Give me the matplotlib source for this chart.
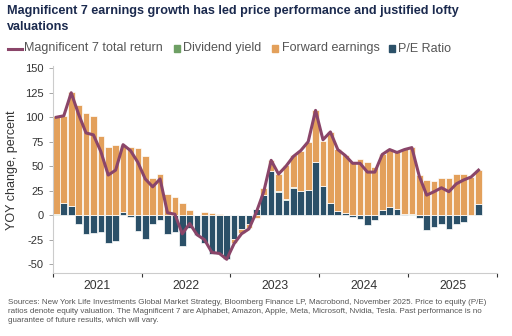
import numpy as np
import matplotlib
matplotlib.use("Agg")
import matplotlib.pyplot as plt
from matplotlib.patches import Rectangle
from matplotlib.lines import Line2D

plt.rcParams['font.family'] = ['Liberation Sans', 'DejaVu Sans']
plt.rcParams['axes.unicode_minus'] = False

# ---- data (monthly, Jan 2021 - Oct 2025) ----
years = ["2021", "2022", "2023", "2024", "2025"]
pe_ratio = [0.5, 12, 9, -8.5, -19, -18, -17, -28, -26, 3, -1.5, -16,
            -24.5, -9, -5, -19, -17, -31, -13.5, -20, -28, -40, -40, -45,
            -24, -13.6, -8.5, 6.5, 20.5, 45, 24, 16, 28, 24.5, 25.5, 54.5,
            29.5, 12.5, 4, 2, -1.7, -4, -9.5, -4.4, 5, 8, 6, 1,
            0.5, -3, -15.3, -12, -9, -13.6, -9, -7, 0, 11]
dividend_yield = [0.3, 0.3, 0.3, 0.3, 0.3, 0.3, 0.3, 0.3, 0.3, 0.3, 0.3, 0.3,
                  0.3, 0.3, 0.3, 0.3, 0.3, 0.3, 0.3, 0.3, 0.3, 0.3, 0.3, 0.3,
                  0.3, 0.3, 0.3, 0.3, 0.3, 0.3, 0.3, 0.3, 0.3, 0.3, 0.3, 0.3,
                  0.3, 0.3, 0.3, 0.3, 0.3, 0.3, 0.3, 0.3, 0.3, 0.3, 0.3, 0.3,
                  0.3, 0.3, 0.3, 0.3, 0.3, 0.3, 0.3, 0.3, 0.3, 0.3]
forward_earnings = [100, 89, 116, 112, 104, 100.5, 81, 69, 71.5, 68.5, 69, 68,
                    60.5, 37.5, 42, 21.5, 18, 12, 5, 0, 3, 2, 1, 0,
                    -4.5, -4.5, -5, -3, 7, 11.5, 18, 35, 33, 40.5, 48.5, 52.5,
                    46, 72.5, 63, 59, 53.5, 57, 53.5, 48.7, 57, 59, 58, 66,
                    68.5, 40.5, 36, 35, 37.5, 38, 41.5, 42, 39, 35]
total_return = [100, 101.5, 125, 103, 84, 82, 65, 41, 46, 72, 66, 54,
                37, 29, 37, 2.5, 1, -19, -8.5, -20, -25, -38, -39, -45,
                -29, -19, -14, 3, 24, 56, 42, 50, 60, 66, 75, 107,
                77, 85, 67, 61, 53, 53, 44, 44, 62, 67, 64, 67,
                69, 40, 20.5, 24, 28, 24, 32, 36, 39, 46]

C_ORANGE = "#E3A05B"
C_BLUE = "#2B5068"
C_GREEN = "#6E9F64"
C_LINE = "#8A4569"
C_TITLE = "#1B2A4E"

W, H = 512, 336
fig = plt.figure(figsize=(W / 100, H / 100), dpi=100)

def fx(px):
    return px / W

def fy(py):
    return 1 - py / H

ax_left, ax_right, ax_top, ax_bottom = 52.7, 497, 66.3, 273
ax = fig.add_axes([fx(ax_left), fy(ax_bottom), (ax_right - ax_left) / W, (ax_bottom - ax_top) / H])

x = np.arange(len(total_return))
pos_base = np.zeros(len(x))
neg_base = np.zeros(len(x))
for vals, col in [(pe_ratio, C_BLUE), (dividend_yield, C_GREEN), (forward_earnings, C_ORANGE)]:
    v = np.asarray(vals, dtype=float)
    bottom = np.where(v >= 0, pos_base, neg_base)
    ax.bar(x, v, bottom=bottom, width=0.9, color=col, edgecolor="white", linewidth=0.5, zorder=2)
    pos_base += np.where(v >= 0, v, 0)
    neg_base += np.where(v < 0, v, 0)

ax.plot(x, total_return, color=C_LINE, lw=2.2, zorder=4, solid_joinstyle="round")

ax.set_xlim(-0.5, len(x) + 1.5)
ax.set_ylim(-59, 152)
ax.set_yticks([150, 125, 100, 75, 50, 25, 0, -25, -50])
ax.tick_params(axis="y", labelsize=8, colors="#999999", labelcolor="#333333", length=3, width=0.6)
bounds = [-0.5 + 12 * i for i in range(6)]
ax.set_xticks(bounds)
ax.set_xticklabels([])
ax.set_xticks([5.5 + 12 * i for i in range(5)], minor=True)
ax.set_xticklabels(years, minor=True)
ax.tick_params(axis="x", which="major", length=3, width=0.8, colors="#333333")
ax.tick_params(axis="x", which="minor", length=0, labelsize=8.8, labelcolor="#333333", pad=5)
for s in ["top", "right"]:
    ax.spines[s].set_visible(False)
for s in ["left", "bottom"]:
    ax.spines[s].set_color("#CCCCCC")
    ax.spines[s].set_linewidth(0.8)

fig.text(fx(12), fy(170), "YOY change, percent", rotation=90, ha="center", va="center",
         fontsize=9, color="#333333")

# title
fig.text(fx(7), fy(5), "Magnificent 7 earnings growth has led price performance and justified lofty\nvaluations",
         ha="left", va="top", fontsize=9.1, fontweight="bold", color=C_TITLE, linespacing=1.4)

# legend
ly = 48.5
fig.add_artist(Line2D([fx(8), fx(22)], [fy(ly), fy(ly)], color=C_LINE, lw=2.2, transform=fig.transFigure))
fig.text(fx(24), fy(ly), "Magnificent 7 total return", va="center", ha="left", fontsize=9, color="#555555")
for sx, col, tx, label in [(174, C_GREEN, 183, "Dividend yield"),
                           (272, C_ORANGE, 281.5, "Forward earnings"),
                           (389, C_BLUE, 398.5, "P/E Ratio")]:
    fig.add_artist(Rectangle((fx(sx), fy(ly + 3)), 6 / W, 6 / H, color=col, transform=fig.transFigure))
    fig.text(fx(tx), fy(ly), label, va="center", ha="left", fontsize=9, color="#555555")

# footnote
foot = ("Sources: New York Life Investments Global Market Strategy, Bloomberg Finance LP, Macrobond, November 2025. Price to equity (P/E)\n"
        "ratios denote equity valuation. The Magnificent 7 are Alphabet, Amazon, Apple, Meta, Microsoft, Nvidia, Tesla. Past performance is no\n"
        "guarantee of future results, which will vary.")
fig.text(fx(8), fy(298.5), foot, ha="left", va="top", fontsize=5.75, color="#555555", linespacing=1.45)

fig.savefig("out.png", dpi=100)
